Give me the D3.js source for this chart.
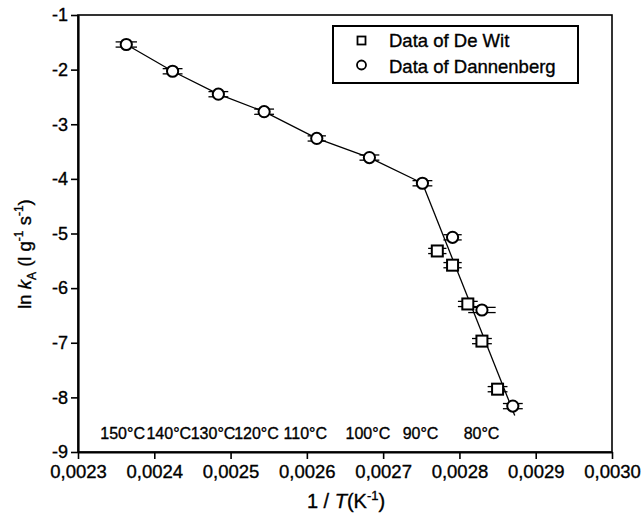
<!DOCTYPE html>
<html>
<head>
<meta charset="utf-8">
<script src="https://cdn.jsdelivr.net/npm/d3@7/dist/d3.min.js"></script>
<style>
  html, body { margin: 0; padding: 0; background: #fff; }
  svg { display: block; }
  text { font-family: "Liberation Sans", Arial, Helvetica, sans-serif; fill: #000; stroke: #000; stroke-width: 0.35px; }
</style>
</head>
<body>
<svg id="chart" width="642" height="525"></svg>
<script>
// Arrhenius plot: ln kA against 1/T

// Dannenberg data (circles)
const dannX   = [0.0023633, 0.002424, 0.002484, 0.002544, 0.002613, 0.002682, 0.0027515, 0.002791, 0.0028295, 0.00287];
const dannY   = [-1.54, -2.03, -2.45, -2.77, -3.26, -3.61, -4.08, -5.07, -6.40, -8.16];
const dannErr = [0.000014, 0.000013, 0.000013, 0.000013, 0.000012, 0.000013, 0.000013, 0.000012, 0.000018, 0.000013];

// De Wit data (squares)
const witX   = [0.002771, 0.002791, 0.002811, 0.0028295, 0.00285];
const witY   = [-5.32, -5.58, -6.29, -6.97, -7.85];
const witErr = [0.000012, 0.000012, 0.000013, 0.000013, 0.000013];

// high-temperature branch follows the Dannenberg points, low-temperature branch is a straight fit
const upperCount = 7;
const fitX = [0.0027515, 0.0028725];
const fitY = [-4.08, -8.33];

// temperature annotations along the bottom of the plot
const tempLabels = ["150°C", "140°C", "130°C", "120°C", "110°C", "100°C", "90°C", "80°C"];
const tempAt     = [0.0023585, 0.002419, 0.002477, 0.002534, 0.002598, 0.002680, 0.002749, 0.002829];

// axis ticks
const xMajor = [0.0023, 0.0024, 0.0025, 0.0026, 0.0027, 0.0028, 0.0029, 0.0030];
const xMinor = [0.00235, 0.00245, 0.00255, 0.00265, 0.00275, 0.00285, 0.00295];
const yMajor = [-9, -8, -7, -6, -5, -4, -3, -2, -1];
const yMinor = [-8.5, -7.5, -6.5, -5.5, -4.5, -3.5, -2.5, -1.5];

const legendItems = ["Data of De Wit", "Data of Dannenberg"];

const svg = d3.select("#chart");
const x = d3.scaleLinear().domain([0.0023, 0.0030]).range([78, 612]);
const y = d3.scaleLinear().domain([-9, -1]).range([452, 15]);

const fmtX = d => d3.format(".4f")(d).replace(".", ",");

// frame (top and right sides)
svg.append("rect")
  .attr("x", x(0.0023)).attr("y", y(-1))
  .attr("width", x(0.0030) - x(0.0023)).attr("height", y(-9) - y(-1))
  .attr("fill", "none").attr("stroke", "#000").attr("stroke-width", 1.6);

// bottom axis
const gx = svg.append("g").attr("transform", `translate(0,${y(-9)})`);
gx.call(d3.axisBottom(x).tickValues(xMinor).tickSize(4).tickFormat(""));
gx.call(d3.axisBottom(x).tickValues(xMajor).tickSize(7).tickSizeOuter(0).tickPadding(6).tickFormat(fmtX));
gx.selectAll(".domain").attr("stroke-width", 2.2);
gx.selectAll(".tick line").attr("stroke-width", 1.6);
gx.selectAll("text").attr("font-size", 18.5).attr("font-family", null);

// left axis
const gy = svg.append("g").attr("transform", `translate(${x(0.0023)},0)`);
gy.call(d3.axisLeft(y).tickValues(yMinor).tickSize(4).tickFormat(""));
gy.call(d3.axisLeft(y).tickValues(yMajor).tickSize(7).tickSizeOuter(0).tickPadding(3).tickFormat(d => String(d)));
gy.selectAll(".domain").attr("stroke-width", 2.2);
gy.selectAll(".tick line").attr("stroke-width", 1.6);
gy.selectAll("text").attr("font-size", 18).attr("font-family", null);

// connecting lines
const line = d3.line().x(d => x(d[0])).y(d => y(d[1]));
const upper = dannX.slice(0, upperCount).map((v, i) => [v, dannY[i]]);
svg.append("path").attr("d", line(upper))
  .attr("fill", "none").attr("stroke", "#000").attr("stroke-width", 1.3);
svg.append("path").attr("d", line(fitX.map((v, i) => [v, fitY[i]])))
  .attr("fill", "none").attr("stroke", "#000").attr("stroke-width", 1.3);

// horizontal error bars, drawn as a double stroke behind each marker
function errorBars(xs, ys, errs) {
  const g = svg.append("g").attr("stroke", "#000").attr("stroke-width", 1.3);
  xs.forEach((v, i) => {
    [-2.6, 2.6].forEach(off => {
      g.append("line")
        .attr("x1", x(v - errs[i])).attr("x2", x(v + errs[i]))
        .attr("y1", y(ys[i]) + off).attr("y2", y(ys[i]) + off);
    });
  });
}
errorBars(dannX, dannY, dannErr);
errorBars(witX, witY, witErr);

// markers
svg.append("g").selectAll("circle").data(dannX).join("circle")
  .attr("cx", d => x(d)).attr("cy", (d, i) => y(dannY[i])).attr("r", 5.6)
  .attr("fill", "#fff").attr("stroke", "#000").attr("stroke-width", 2);
svg.append("g").selectAll("rect").data(witX).join("rect")
  .attr("x", d => x(d) - 5.5).attr("y", (d, i) => y(witY[i]) - 5.5)
  .attr("width", 11).attr("height", 11)
  .attr("fill", "#fff").attr("stroke", "#000").attr("stroke-width", 2);

// temperature annotations
svg.append("g").selectAll("text").data(tempLabels).join("text")
  .attr("x", (d, i) => x(tempAt[i])).attr("y", 439)
  .attr("text-anchor", "middle").attr("font-size", 16)
  .text(d => d);

// legend
const lg = svg.append("g");
lg.append("rect").attr("x", 333).attr("y", 26).attr("width", 245).attr("height", 57)
  .attr("fill", "#fff").attr("stroke", "#000").attr("stroke-width", 2);
lg.append("rect").attr("x", 357.5).attr("y", 36.5).attr("width", 8).attr("height", 8)
  .attr("fill", "#fff").attr("stroke", "#000").attr("stroke-width", 1.8);
lg.append("circle").attr("cx", 361.5).attr("cy", 65).attr("r", 4.5)
  .attr("fill", "#fff").attr("stroke", "#000").attr("stroke-width", 1.8);
lg.selectAll("text.item").data(legendItems).join("text").attr("class", "item")
  .attr("x", 389).attr("y", (d, i) => 47 + i * 26)
  .attr("font-size", 18.5).text(d => d);

// axis titles
const xt = svg.append("text").attr("x", 346).attr("y", 508)
  .attr("text-anchor", "middle").attr("font-size", 20);
xt.append("tspan").text("1 / ");
xt.append("tspan").attr("font-style", "italic").text("T");
xt.append("tspan").text("(K");
xt.append("tspan").attr("font-size", 13).attr("dy", -8).text("-1");
xt.append("tspan").attr("dy", 8).text(")");

const yt = svg.append("text")
  .attr("transform", "translate(31,254) rotate(-90)")
  .attr("text-anchor", "middle").attr("font-size", 18.5);
yt.append("tspan").text("ln ");
yt.append("tspan").attr("font-style", "italic").text("k");
yt.append("tspan").attr("font-size", 12).attr("dy", 5).text("A");
yt.append("tspan").attr("dy", -5).text(" (l g");
yt.append("tspan").attr("font-size", 12).attr("dy", -8).text("-1");
yt.append("tspan").attr("dy", 8).text(" s");
yt.append("tspan").attr("font-size", 12).attr("dy", -8).text("-1");
yt.append("tspan").attr("dy", 8).text(")");
</script>
</body>
</html>
